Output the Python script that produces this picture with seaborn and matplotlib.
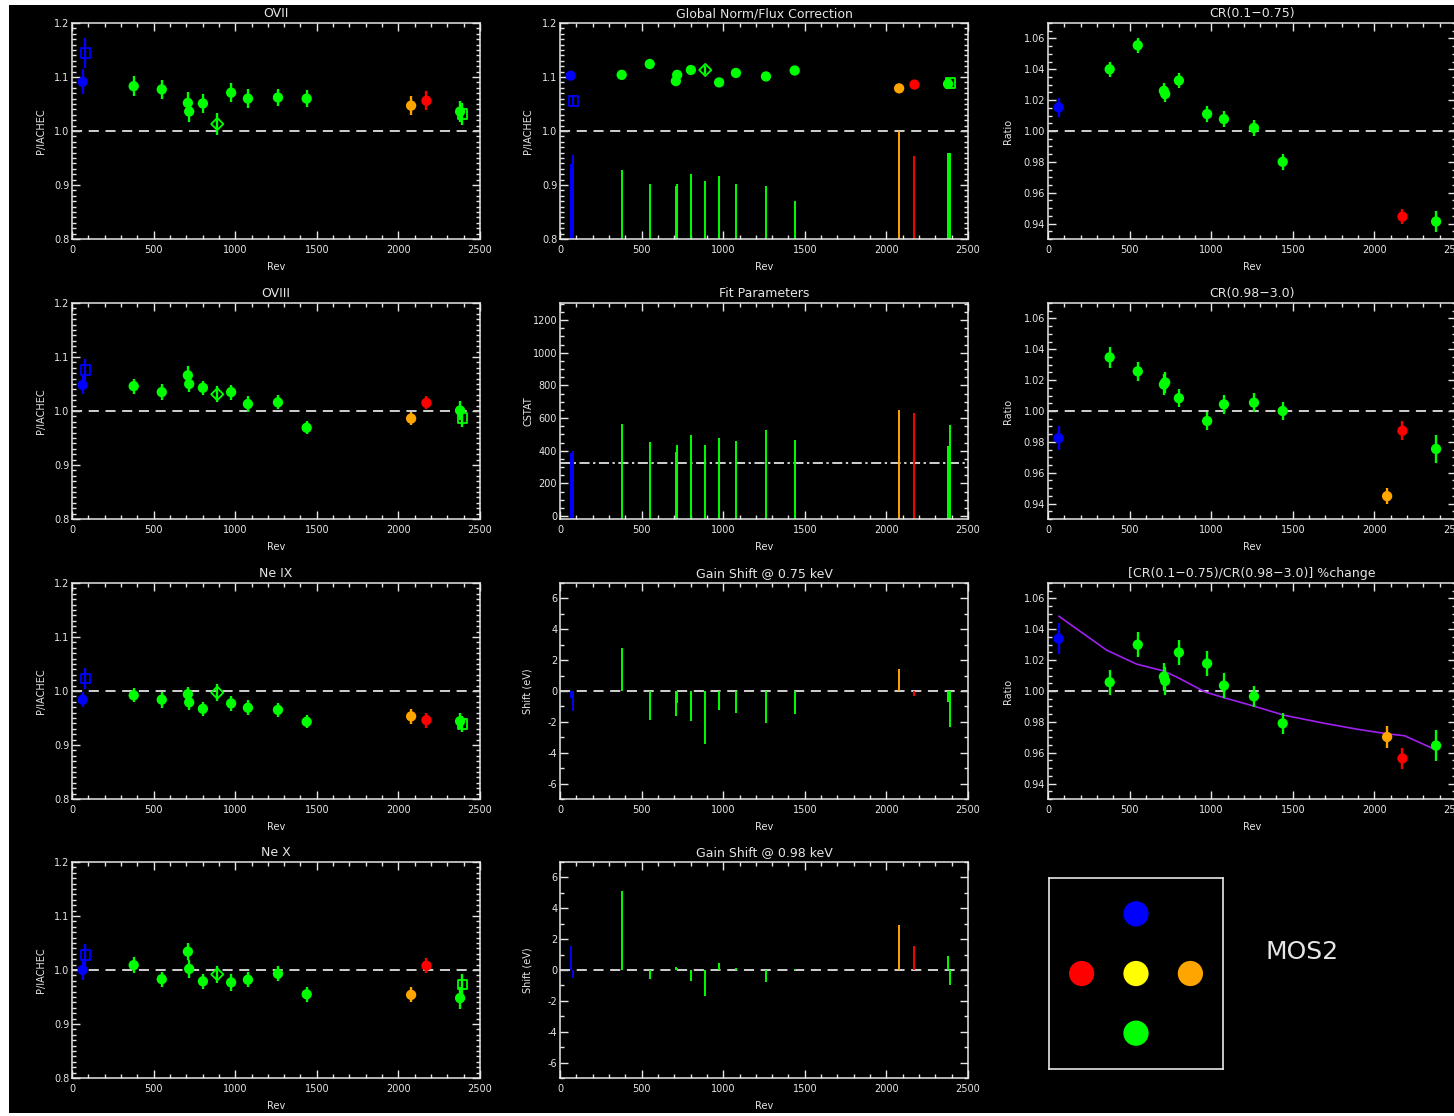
import numpy as np
import pandas as pd
import matplotlib
matplotlib.use("Agg")
import matplotlib.pyplot as plt
import seaborn as sns
from matplotlib.ticker import MultipleLocator, FormatStrFormatter
from matplotlib.patches import Rectangle

sns.set_theme(style="dark")
plt.rcParams["font.family"] = ["DejaVu Sans"]

nan = np.nan
# ---------------- data ----------------
rev = [65, 82, 378, 550, 710, 718, 802, 890, 975, 1078, 1262, 1438, 2078, 2172, 2378, 2392]
obs_color = ["#0000ff", "#0000ff"] + ["#00ff00"] * 10 + ["#ffa500", "#ff0000", "#00ff00", "#00ff00"]
obs_marker = ["o", "s"] + ["o"] * 5 + ["D"] + ["o"] * 4 + ["o", "o", "o", "s"]

ovii_val = [1.091, 1.144, 1.083, 1.077, 1.052, 1.036, 1.051, 1.013, 1.071, 1.060, 1.062, 1.060, 1.047, 1.056, 1.036, 1.032]
ovii_err = [0.023, 0.028, 0.018, 0.018, 0.020, 0.020, 0.017, 0.020, 0.018, 0.018, 0.016, 0.016, 0.018, 0.018, 0.020, 0.020]

oviii_val = [1.048, 1.076, 1.046, 1.035, 1.066, 1.050, 1.043, 1.031, 1.035, 1.013, 1.016, 0.969, 0.986, 1.015, 1.001, 0.987]
oviii_err = [0.017, 0.021, 0.014, 0.015, 0.017, 0.015, 0.013, 0.015, 0.014, 0.015, 0.013, 0.012, 0.012, 0.012, 0.017, 0.016]

neix_val = [0.984, 1.023, 0.992, 0.984, 0.994, 0.979, 0.967, 0.997, 0.977, 0.969, 0.965, 0.943, 0.953, 0.946, 0.944, 0.939]
neix_err = [0.014, 0.020, 0.013, 0.015, 0.014, 0.015, 0.013, 0.016, 0.014, 0.014, 0.013, 0.012, 0.014, 0.014, 0.015, 0.015]

nex_val = [1.000, 1.028, 1.009, 0.983, 1.034, 1.002, 0.979, 0.992, 0.977, 0.982, 0.993, 0.955, 0.954, 1.008, 0.948, 0.973]
nex_err = [0.018, 0.020, 0.015, 0.014, 0.016, 0.017, 0.014, 0.016, 0.015, 0.014, 0.014, 0.014, 0.014, 0.014, 0.021, 0.019]

norm_val = [1.1025, 1.055, 1.104, 1.124, 1.0925, 1.104, 1.113, 1.113, 1.090, 1.1075, 1.101, 1.112, 1.079, 1.086, 1.087, 1.089]
norm_err = [0.006, 0.008, 0.005, 0.005, 0.006, 0.006, 0.005, 0.007, 0.005, 0.005, 0.006, 0.005, 0.005, 0.005, 0.007, 0.008]
norm_bar = [0.939, 0.956, 0.928, 0.902, 0.899, 0.902, 0.921, 0.9075, 0.917, 0.902, 0.899, 0.870, 1.000, 0.954, 0.959, 0.959]

cstat = [386, 398, 563, 451, 392, 435, 496, 435, 478, 459, 529, 467, 649, 631, 427, 557]
cstat_ref = 325

gain075 = [-0.48, -1.3, 2.78, -1.9, -1.59, -0.76, -1.96, -3.43, -1.24, -1.43, -2.07, -1.52, 1.41, -0.33, -0.7, -2.33]
gain098 = [1.57, -0.5, 5.1, -0.6, 0.2, 0.15, -0.72, -1.7, 0.48, 0.1, -0.78, 0.08, 2.93, 1.57, 0.93, -0.98]

cr_soft = [1.0153, nan, 1.040, 1.0555, 1.026, 1.024, 1.0327, nan, 1.011, 1.0077, 1.002, 0.980, nan, 0.9445, 0.9413, nan]
cr_soft_err = [0.006, nan, 0.005, 0.005, 0.005, 0.005, 0.005, nan, 0.005, 0.005, 0.005, 0.005, nan, 0.005, 0.007, nan]

cr_hard = [0.9824, nan, 1.0348, 1.0257, 1.0172, 1.0185, 1.0083, nan, 0.9935, 1.0043, 1.0054, 1.000, 0.9448, 0.9872, 0.9754, nan]
cr_hard_err = [0.008, nan, 0.007, 0.006, 0.007, 0.007, 0.006, nan, 0.006, 0.006, 0.006, 0.006, 0.005, 0.006, 0.009, nan]

cr_ratio = [1.0339, nan, 1.0057, 1.030, 1.0093, 1.0065, 1.025, nan, 1.0178, 1.0035, 0.9965, 0.979, 0.9702, 0.9563, 0.9646, nan]
cr_ratio_err = [0.010, nan, 0.008, 0.008, 0.009, 0.009, 0.008, nan, 0.008, 0.008, 0.007, 0.007, 0.007, 0.007, 0.010, nan]

model_rev = [66, 359, 544, 708, 790, 964, 1077, 1262, 1446, 1692, 1897, 2082, 2185, 2380]
model_val = [1.0485, 1.0265, 1.0174, 1.013, 1.009, 0.9993, 0.9957, 0.9902, 0.9843, 0.9791, 0.9752, 0.9722, 0.971, 0.9617]

legend_x = [0, -1, 0, 1, 0]
legend_y = [1, 0, 0, 0, -1]
legend_colors = ["#0000ff", "#ff0000", "#ffff00", "#ffa500", "#00ff00"]

# ---------------- layout ----------------
W, H = 1454, 1116
FG = "#e6e6e6"
fig = plt.figure(figsize=(W / 100, H / 100), dpi=100, facecolor="white")
fig.patches.append(Rectangle((9 / W, (H - 1113) / H), (W - 9) / W, (1113 - 5) / H,
                             transform=fig.transFigure, facecolor="black", edgecolor="none", zorder=-10))

col_left = [72, 560, 1048]
row_top = [23, 303, 583, 862]
AW, AH = 408, 216
ylab_off = [26, 27, 35]


def make_ax(r, c):
    return fig.add_axes([col_left[c] / W, 1 - (row_top[r] + AH) / H, AW / W, AH / H])


def style_ax(ax, c, ylim, ymaj, ymin, yfmt, ylabel, title):
    ax.set_facecolor("black")
    ax.set_xlim(0, 2500)
    ax.set_ylim(*ylim)
    ax.xaxis.set_major_locator(MultipleLocator(500))
    ax.xaxis.set_minor_locator(MultipleLocator(100))
    ax.yaxis.set_major_locator(MultipleLocator(ymaj))
    ax.yaxis.set_minor_locator(MultipleLocator(ymin))
    ax.yaxis.set_major_formatter(FormatStrFormatter(yfmt))
    ax.tick_params(which="both", direction="in", top=True, right=True, bottom=True, left=True,
                   color=FG, labelcolor=FG, labelsize=7, width=1)
    ax.tick_params(which="major", length=6)
    ax.tick_params(which="minor", length=3)
    ax.tick_params(axis="x", pad=4)
    ax.tick_params(axis="y", pad=2)
    for s in ax.spines.values():
        s.set_visible(True)
        s.set_color(FG)
        s.set_linewidth(1.1)
    ax.grid(False)
    ax.set_title(title, color=FG, fontsize=9, pad=4)
    ax.set_xlabel("Rev", color=FG, fontsize=7)
    ax.xaxis.set_label_coords(0.5, -0.105)
    ax.set_ylabel(ylabel, color=FG, fontsize=7)
    ax.yaxis.set_label_coords(-ylab_off[c] / AW, 0.5)


def dashed(ax, y):
    ax.axhline(y, color="#d0d0d0", lw=1.4, ls=(0, (5.2, 3.4)), zorder=1)


def points(ax, vals, errs):
    df = pd.DataFrame({"rev": rev, "val": vals, "err": errs, "color": obs_color, "marker": obs_marker}).dropna()
    for _, row in df.iterrows():
        ax.errorbar(row["rev"], row["val"], yerr=row["err"], fmt="none", ecolor=row["color"],
                    elinewidth=1.7, capsize=0, zorder=3)
    filled = df[df["marker"] == "o"]
    pal = {c: c for c in filled["color"].unique()}
    sns.scatterplot(data=filled, x="rev", y="val", hue="color", palette=pal, s=55, linewidth=0,
                    marker="o", legend=False, ax=ax, zorder=4)
    for _, row in df[df["marker"] != "o"].iterrows():
        ax.scatter(row["rev"], row["val"], marker=row["marker"], s=48 if row["marker"] == "s" else 38,
                   facecolors="none", edgecolors=row["color"], linewidths=1.3, zorder=4)


def bars(ax, vals, base):
    ax.vlines(rev, base, vals, colors=obs_color, lw=1.4, zorder=2)


P_LIM = (0.8, 1.2)
CR_LIM = (0.93, 1.07)
G_LIM = (-7, 7)
C_LIM = (-18, 1304)

# column 1
for r, (name, v, e) in enumerate([("OVII", ovii_val, ovii_err), ("OVIII", oviii_val, oviii_err),
                                   ("Ne IX", neix_val, neix_err), ("Ne X", nex_val, nex_err)]):
    ax = make_ax(r, 0)
    dashed(ax, 1.0)
    points(ax, v, e)
    style_ax(ax, 0, P_LIM, 0.1, 0.01, "%.1f", "P/IACHEC", name)

# column 2
ax = make_ax(0, 1)
bars(ax, norm_bar, P_LIM[0])
dashed(ax, 1.0)
points(ax, norm_val, norm_err)
style_ax(ax, 1, P_LIM, 0.1, 0.01, "%.1f", "P/IACHEC", "Global Norm/Flux Correction")

ax = make_ax(1, 1)
bars(ax, cstat, C_LIM[0])
ax.axhline(cstat_ref, color="#d0d0d0", lw=1.4, ls=(0, (5.2, 1.8, 1.2, 1.8)), zorder=1)
style_ax(ax, 1, C_LIM, 200, 50, "%d", "CSTAT", "Fit Parameters")

for r, (name, g) in enumerate([("Gain Shift @ 0.75 keV", gain075), ("Gain Shift @ 0.98 keV", gain098)]):
    ax = make_ax(r + 2, 1)
    bars(ax, g, 0)
    dashed(ax, 0)
    style_ax(ax, 1, G_LIM, 2, 1, "%d", "Shift (eV)", name)

# column 3
for r, (name, v, e) in enumerate([("CR(0.1\u22120.75)", cr_soft, cr_soft_err),
                                   ("CR(0.98\u22123.0)", cr_hard, cr_hard_err),
                                   ("[CR(0.1\u22120.75)/CR(0.98\u22123.0)] %change", cr_ratio, cr_ratio_err)]):
    ax = make_ax(r, 2)
    dashed(ax, 1.0)
    if r == 2:
        sns.lineplot(x=model_rev, y=model_val, color="#a020f0", lw=1.2, sort=False,
                     estimator=None, ax=ax, zorder=2)
    points(ax, v, e)
    style_ax(ax, 2, CR_LIM, 0.02, 0.005, "%.2f", "Ratio", name)

# legend / detector panel
lax = fig.add_axes([1049 / W, 1 - 1069 / H, 174 / W, 191 / H])
lax.set_facecolor("black")
sns.scatterplot(x=legend_x, y=legend_y, hue=legend_colors, palette={c: c for c in legend_colors},
                s=330, linewidth=0, legend=False, ax=lax)
lax.set_xlim(-1.6, 1.6)
lax.set_ylim(-1.6, 1.6)
lax.set_xticks([])
lax.set_yticks([])
lax.grid(False)
for s in lax.spines.values():
    s.set_visible(True)
    s.set_color(FG)
    s.set_linewidth(1.2)
fig.text(1266 / W, 1 - 952 / H, "MOS2", color=FG, fontsize=18, va="center", ha="left")

fig.savefig("out.png", dpi=100, facecolor=fig.get_facecolor())
